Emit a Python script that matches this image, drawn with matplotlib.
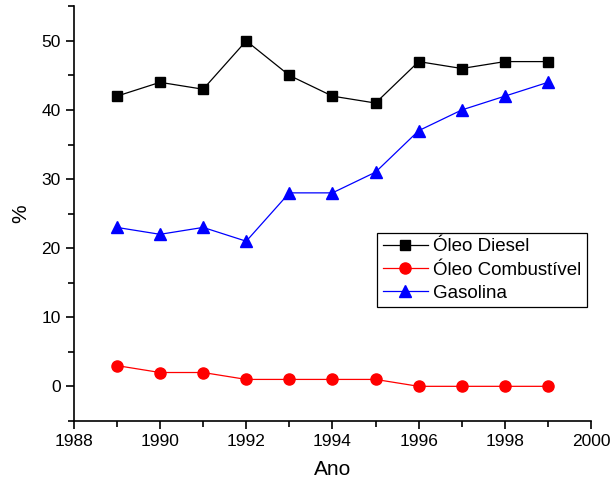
import matplotlib.pyplot as plt
from matplotlib.ticker import MultipleLocator

plt.rcParams["font.family"] = ["Liberation Sans", "DejaVu Sans"]

years = [1989, 1990, 1991, 1992, 1993, 1994, 1995, 1996, 1997, 1998, 1999]
diesel = [42, 44, 43, 50, 45, 42, 41, 47, 46, 47, 47]
combustivel = [3, 2, 2, 1, 1, 1, 1, 0, 0, 0, 0]
gasolina = [23, 22, 23, 21, 28, 28, 31, 37, 40, 42, 44]

fig = plt.figure(figsize=(6.1, 4.86), dpi=100)
ax = fig.add_axes([0.121, 0.134, 0.848, 0.853])

ax.plot(years, diesel, color="black", lw=0.9, marker="s", ms=7, label="Óleo Diesel")
ax.plot(years, combustivel, color="red", lw=0.9, marker="o", ms=8, label="Óleo Combustível")
ax.plot(years, gasolina, color="blue", lw=0.9, marker="^", ms=9, label="Gasolina")

ax.set_xlim(1988, 2000)
ax.set_ylim(-5, 55)
ax.xaxis.set_major_locator(MultipleLocator(2))
ax.xaxis.set_minor_locator(MultipleLocator(1))
ax.yaxis.set_major_locator(MultipleLocator(10))
ax.yaxis.set_minor_locator(MultipleLocator(5))
ax.tick_params(which="major", direction="out", length=6, width=1.2, labelsize=12.5)
ax.tick_params(which="minor", direction="out", length=4, width=1.2)

for side in ("top", "right"):
    ax.spines[side].set_visible(False)
for side in ("left", "bottom"):
    ax.spines[side].set_linewidth(1.2)

ax.set_xlabel("Ano", fontsize=15, labelpad=8)
ax.set_ylabel("%", fontsize=15, labelpad=8)

leg = ax.legend(loc="upper left", bbox_to_anchor=(0.586, 0.454), fontsize=13.5,
                fancybox=False, framealpha=1, edgecolor="black",
                borderpad=0.3, labelspacing=0.32, handlelength=2.4,
                handletextpad=0.3, borderaxespad=0)
leg.get_frame().set_linewidth(0.9)

fig.savefig("out.png", dpi=100)
